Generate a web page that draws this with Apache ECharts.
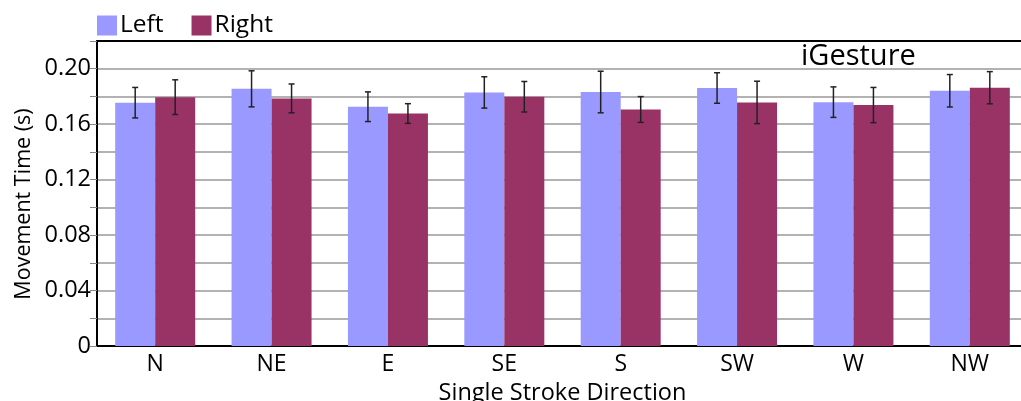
<!DOCTYPE html>
<html><head><meta charset="utf-8">
<script src="https://cdn.jsdelivr.net/npm/echarts@6/dist/echarts.min.js"></script>
<style>html,body{margin:0;padding:0;background:#fff}#c{width:1021px;height:401px}</style>
</head><body><div id="c"></div>
<script>
const categories = ['N','NE','E','SE','S','SW','W','NW'];
const leftMeans  = [0.1755,0.1855,0.1726,0.1829,0.1832,0.1861,0.1759,0.1841];
const leftErr    = [0.0110,0.0130,0.0107,0.0113,0.0150,0.0110,0.0110,0.0117];
const rightMeans = [0.1795,0.1786,0.1677,0.1798,0.1706,0.1757,0.1738,0.1863];
const rightErr   = [0.0125,0.0104,0.0071,0.0110,0.0093,0.0153,0.0127,0.0116];
const yTicks = ['0','0.04','0.08','0.12','0.16','0.20'];

const FONT = '"Open Sans", "Noto Sans", sans-serif';
const chart = echarts.init(document.getElementById('c'));

function errSeries(means, errs, idx){
  const data = means.map((m,i)=>[i, m-errs[i], m+errs[i]]);
  return {
    type:'custom', xAxisIndex:0, yAxisIndex:0, z:10,
    renderItem:function(params, api){
      const x = api.value(0);
      const lo = api.coord([x, api.value(1)]);
      const hi = api.coord([x, api.value(2)]);
      const off = (idx===0 ? -1 : 1) * 20;
      const cx = lo[0] + off;
      const cap = 3;
      const st = {stroke:'#222', lineWidth:1.5};
      return {type:'group', children:[
        {type:'line', shape:{x1:cx,y1:lo[1],x2:cx,y2:hi[1]}, style:st},
        {type:'line', shape:{x1:cx-cap,y1:lo[1],x2:cx+cap,y2:lo[1]}, style:st},
        {type:'line', shape:{x1:cx-cap,y1:hi[1],x2:cx+cap,y2:hi[1]}, style:st}
      ]};
    },
    data:data, silent:true
  };
}

chart.setOption({
  animation:false,
  textStyle:{fontFamily:FONT},
  title:{text:'iGesture', left:801, top:42, padding:0, textStyle:{fontFamily:FONT, fontSize:29, fontWeight:'normal', color:'#000'}},
  legend:{left:97, top:13, padding:0, itemWidth:20, itemHeight:20, itemGap:28, icon:'rect',
    textStyle:{fontFamily:FONT, fontSize:24.5, color:'#000', padding:[0,0,0,-2]},
    data:['Left','Right']},
  graphic:[{type:'text', x:24, y:204, rotation:Math.PI/2,
    style:{text:'Movement Time (s)', fontFamily:FONT, fontSize:21.5, fill:'#000', align:'center', verticalAlign:'middle'}}],
  grid:{left:97, right:-7, top:41, bottom:55, containLabel:false, outerBoundsMode:'none'},
  xAxis:[{type:'category', data:categories,
    axisLine:{lineStyle:{color:'#000', width:2}},
    axisTick:{show:false},
    axisLabel:{fontFamily:FONT, fontSize:23, color:'#000', margin:7},
    name:'Single Stroke Direction', nameLocation:'middle', nameGap:28,
    nameTextStyle:{fontFamily:FONT, fontSize:23.5, color:'#000', verticalAlign:'top'}},
    {type:'category', data:categories, position:'top', axisLine:{lineStyle:{color:'#000', width:2}},
    axisTick:{show:false}, axisLabel:{show:false}}],
  yAxis:{type:'value', min:0, max:0.22, interval:0.02,
    axisLine:{show:true, lineStyle:{color:'#000', width:2}},
    axisTick:{show:true, length:7, lineStyle:{color:'#888'}},
    axisLabel:{fontFamily:FONT, fontSize:23.5, color:'#000', margin:6,
      formatter:function(v){const k=Math.round(v/0.04*1000)/1000; if(Math.abs(k-Math.round(k))<1e-6 && Math.round(k)<yTicks.length) return yTicks[Math.round(k)]; return '';}},
    splitLine:{show:true, lineStyle:{color:'#999', width:1.5}}},
  series:[
    {name:'Left', type:'bar', data:leftMeans, barWidth:40, barGap:'0%', itemStyle:{color:'#9999ff'}},
    {name:'Right', type:'bar', data:rightMeans, barWidth:40, barGap:'0%', itemStyle:{color:'#993366'}},
    errSeries(leftMeans, leftErr, 0),
    errSeries(rightMeans, rightErr, 1)
  ]
});
</script></body></html>
